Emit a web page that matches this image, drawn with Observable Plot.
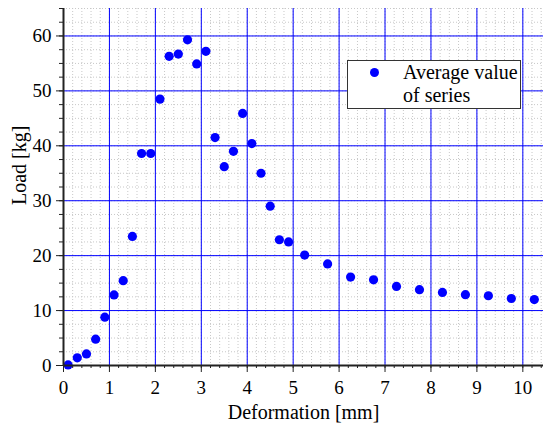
<!DOCTYPE html>
<html>
<head>
<meta charset="utf-8">
<script src="https://cdn.jsdelivr.net/npm/d3@7"></script>
<script src="https://cdn.jsdelivr.net/npm/@observablehq/plot@0.6"></script>
<style>
  html, body { margin: 0; padding: 0; background: #fff; }
  #wrap { position: relative; width: 543px; height: 423px; font-family: "Liberation Serif", "Times New Roman", serif; }
  #legend { position: absolute; left: 347px; top: 60px; width: 172px; height: 47px; border: 1px solid #333; background: #fff; }
  #legend .dot { position: absolute; left: 22px; top: 7px; width: 9px; height: 9px; border-radius: 50%; background: #0000ff; }
  #legend .txt { position: absolute; left: 55px; top: 0px; font-size: 20px; line-height: 23px; color: #000; white-space: nowrap; }
</style>
</head>
<body>
<div id="wrap"></div>
<script>
const deformation = [0.1, 0.3, 0.5, 0.7, 0.9, 1.1, 1.3, 1.5, 1.7, 1.9, 2.1, 2.3, 2.5, 2.7, 2.9, 3.1, 3.3, 3.5, 3.7, 3.9, 4.1, 4.3, 4.5, 4.7, 4.9, 5.25, 5.75, 6.25, 6.75, 7.25, 7.75, 8.25, 8.75, 9.25, 9.75, 10.25];
const load = [0.1, 1.4, 2.1, 4.8, 8.8, 12.85, 15.45, 23.5, 38.6, 38.6, 48.5, 56.3, 56.7, 59.3, 54.9, 57.2, 41.5, 36.2, 39.0, 45.9, 40.4, 35.0, 29.0, 22.9, 22.5, 20.1, 18.5, 16.1, 15.6, 14.4, 13.8, 13.3, 12.9, 12.7, 12.2, 12.0];
const xTicks = [0, 1, 2, 3, 4, 5, 6, 7, 8, 9, 10];
const yTicks = [0, 10, 20, 30, 40, 50, 60];
const seriesName = ["Average value", "of series"];
const xTitle = "Deformation [mm]";
const yTitle = "Load [kg]";

const data = deformation.map((d, i) => ({deformation: d, load: load[i]}));
const xMinor = d3.range(0, 10.45, 0.2).map(v => +v.toFixed(2));
const yMinor = d3.range(0, 65.01, 2.5);
const blue = "#0000ff";
const axisColor = "#222";
const serif = "Liberation Serif, Times New Roman, serif";

const chart = Plot.plot({
  width: 543,
  height: 423,
  marginLeft: 63,
  marginRight: 0,
  marginTop: 8,
  marginBottom: 58,
  style: {fontFamily: serif, fontSize: "19px", color: "#000", background: "#fff"},
  x: {domain: [0, 10.45], label: null},
  y: {domain: [0, 65], label: null},
  marks: [
    Plot.gridX(xMinor, {stroke: "#c8c8c8", strokeOpacity: 1, strokeDasharray: "1,2"}),
    Plot.gridY(yMinor, {stroke: "#c8c8c8", strokeOpacity: 1, strokeDasharray: "1,2"}),
    Plot.gridX(xTicks.filter(d => d > 0), {stroke: blue, strokeOpacity: 1, strokeWidth: 1}),
    Plot.gridY(yTicks.filter(d => d > 0), {stroke: blue, strokeOpacity: 1, strokeWidth: 1}),
    Plot.dot(data, {x: "deformation", y: "load", r: 4.6, fill: blue, stroke: "none"}),
    Plot.ruleX([0], {stroke: axisColor, strokeWidth: 2}),
    Plot.ruleY([0], {stroke: axisColor, strokeWidth: 2}),
    Plot.axisX({ticks: xMinor, tickSize: 3, tickFormat: () => "", stroke: axisColor, label: null}),
    Plot.axisY({ticks: yMinor, tickSize: 4, tickFormat: () => "", stroke: axisColor, label: null}),
    Plot.axisX({ticks: xTicks, tickSize: 7, tickPadding: 8, tickFormat: d3.format("d"), stroke: axisColor, fill: "#000", fontSize: 19, fontFamily: serif, label: null}),
    Plot.axisY({ticks: yTicks, tickSize: 7, tickPadding: 5, tickFormat: d3.format("d"), stroke: axisColor, fill: "#000", fontSize: 19, fontFamily: serif, label: null}),
    Plot.text([xTitle], {frameAnchor: "bottom", text: d => d, dy: 47, fontSize: 20, fontFamily: serif, fill: "#000", lineAnchor: "middle"}),
    Plot.text([yTitle], {frameAnchor: "left", text: d => d, dx: -44, dy: 18, rotate: -90, fontSize: 20, fontFamily: serif, fill: "#000", lineAnchor: "middle"})
  ]
});

const wrap = document.getElementById("wrap");
wrap.appendChild(chart);
const legend = document.createElement("div");
legend.id = "legend";
legend.innerHTML = '<div class="dot"></div><div class="txt">' + seriesName.join("<br>") + '</div>';
wrap.appendChild(legend);
</script>
</body>
</html>
